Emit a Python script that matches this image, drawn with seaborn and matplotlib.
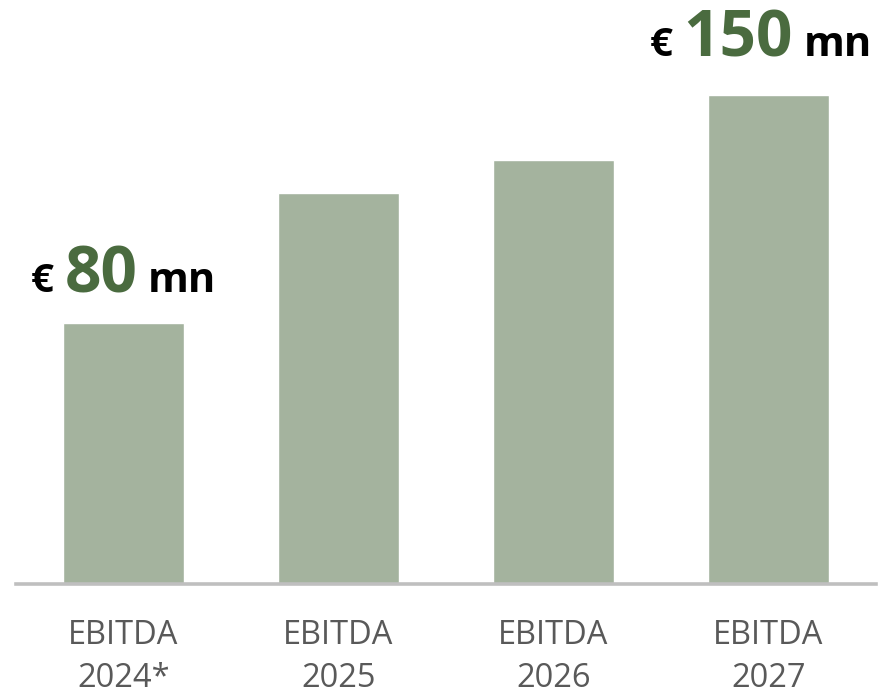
import matplotlib
matplotlib.use("Agg")
import matplotlib.pyplot as plt
import pandas as pd
import seaborn as sns

# EBITDA outlook (EUR mn)
years = ["EBITDA\n2024*", "EBITDA\n2025", "EBITDA\n2026", "EBITDA\n2027"]
ebitda = [80, 120, 130, 150]
callouts = {0: "80", 3: "150"}

bar_color = "#a4b39e"
green = "#4a6b3f"
label_grey = "#595959"

sns.set_theme(style="white")
plt.rcParams['font.family'] = ['Open Sans', 'DejaVu Sans']

df = pd.DataFrame({"Year": years, "EBITDA": ebitda})

fig = plt.figure(figsize=(8.84, 6.88), dpi=100)
ax = fig.add_axes([16 / 884, (688 - 584) / 688, 860 / 884, 584 / 688])
sns.barplot(data=df, x="Year", y="EBITDA", color=bar_color, width=0.567,
            saturation=1, ax=ax)

ax.set_xlim(-0.5, 3.5)
ax.set_ylim(0, 584 / 3.26)
ax.set_xlabel("")
ax.set_ylabel("")
ax.set_yticks([])
sns.despine(ax=ax, left=True, top=True, right=True)
ax.spines["bottom"].set_color("#bfbfbf")
ax.spines["bottom"].set_linewidth(2.6)
ax.tick_params(axis="x", length=0, pad=25.5, labelsize=23.5, labelcolor=label_grey)
for t in ax.get_xticklabels():
    t.set_linespacing(1.38)

# callouts: "€ <value> mn" above the bar (gap / shift in pixels)
offsets = {0: (0, 31), 3: (-8, 39)}
fig.canvas.draw()
r = fig.canvas.get_renderer()
for i, val in callouts.items():
    parts = [("€", 29, "black"), (" ", 30, "black"), (val, 46, green),
             (" ", 30, "black"), ("mn", 30, "black")]
    texts = []
    for s, fs, c in parts:
        t = ax.text(0, 0, s, fontsize=fs, color=c, fontweight="bold",
                    ha="left", va="baseline")
        texts.append(t)
    widths = [t.get_window_extent(r).width for t in texts]
    total = sum(widths)
    dx, dy = offsets[i]
    px, py = ax.transData.transform((i, ebitda[i]))
    x0 = px - total / 2 + dx
    inv = ax.transData.inverted()
    for t, w in zip(texts, widths):
        t.set_position(inv.transform((x0, py + dy)))
        x0 += w

fig.savefig("out.png", dpi=100)
